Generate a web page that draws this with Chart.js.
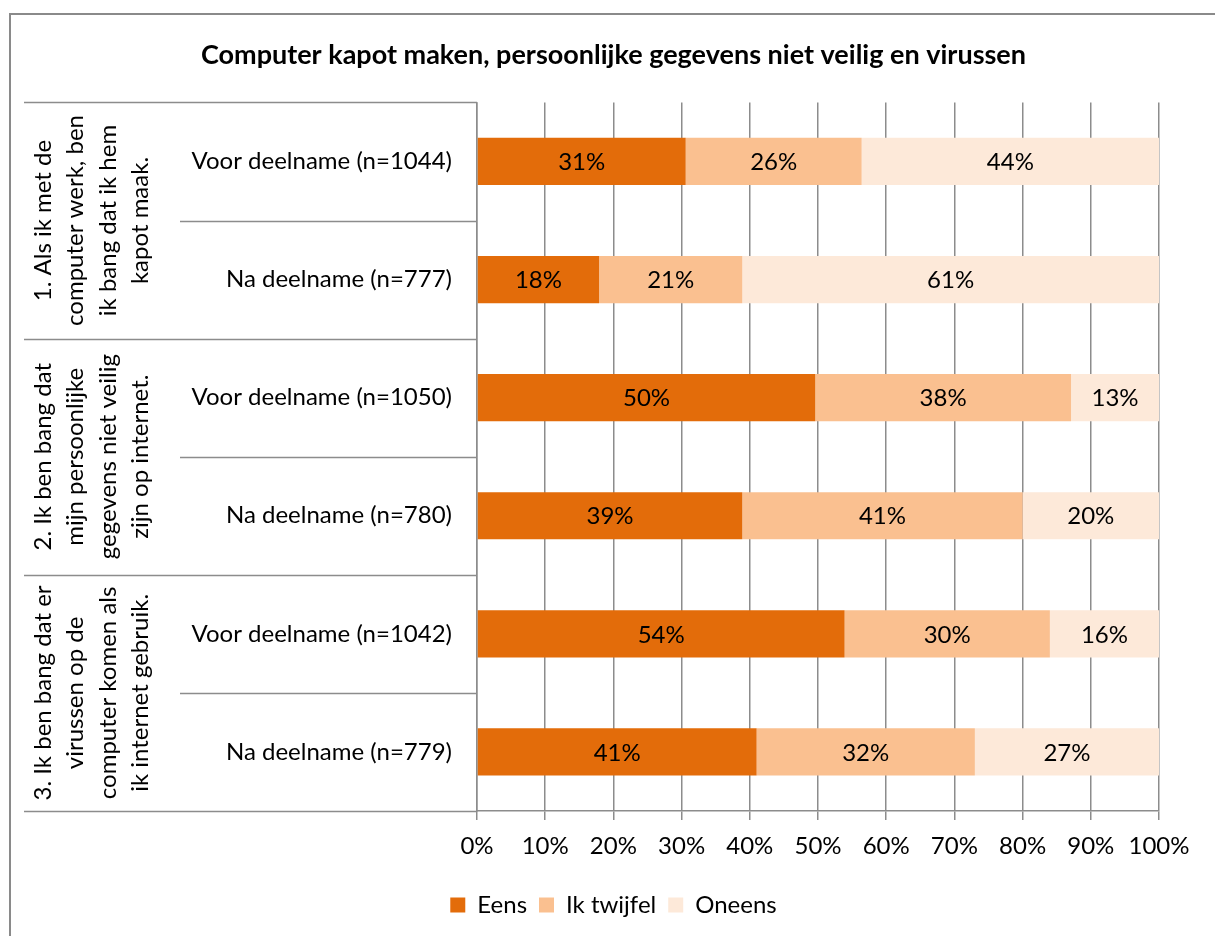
<!DOCTYPE html>
<html>
<head>
<meta charset="utf-8">
<script src="https://cdn.jsdelivr.net/npm/chart.js@4/dist/chart.umd.min.js"></script>
<style>
html,body{margin:0;padding:0;background:#fff;}
#wrap{position:relative;width:1215px;height:936px;}
</style>
</head>
<body>
<div id="wrap"><canvas id="c" width="1215" height="936"></canvas></div>
<script>
const chartTitle = 'Computer kapot maken, persoonlijke gegevens niet veilig en virussen';
const categories = [
  'Voor deelname (n=1044)', 'Na deelname (n=777)',
  'Voor deelname (n=1050)', 'Na deelname (n=780)',
  'Voor deelname (n=1042)', 'Na deelname (n=779)'
];
const groupLabels = [
  ['1. Als ik met de', 'computer werk, ben', 'ik bang dat ik hem', 'kapot maak.'],
  ['2. Ik ben bang dat', 'mijn persoonlijke', 'gegevens niet veilig', 'zijn op internet.'],
  ['3. Ik ben bang dat er', 'virussen op de', 'computer komen als', 'ik internet gebruik.']
];
const seriesNames = ['Eens', 'Ik twijfel', 'Oneens'];
const eens    = [30.6, 17.9, 49.6, 38.9, 53.9, 41.0];
const twijfel = [25.8, 21.0, 37.5, 41.1, 30.1, 32.0];
const oneens  = [43.6, 61.1, 12.9, 20.0, 16.0, 27.0];
const xTickValues = [0, 10, 20, 30, 40, 50, 60, 70, 80, 90, 100];

const FONT = 'Lato, "Open Sans", sans-serif';
const FS = 24;
const GRID = '#8c8c8c';

const framePlugin = {
  id: 'frame',
  beforeDraw(chart) {
    const ctx = chart.ctx;
    ctx.save();
    ctx.strokeStyle = '#8a8a8a';
    ctx.lineWidth = 2;
    ctx.beginPath();
    ctx.moveTo(10, 940);
    ctx.lineTo(10, 14);
    ctx.lineTo(1220, 14);
    ctx.stroke();
    ctx.restore();
  }
};

const groupPlugin = {
  id: 'groups',
  afterDraw(chart) {
    const ctx = chart.ctx;
    const ys = chart.scales.y;
    const left = chart.chartArea.left;
    ctx.save();
    ctx.strokeStyle = GRID;
    ctx.lineWidth = 1.5;
    for (let i = 0; i <= categories.length; i++) {
      const y = Math.round(ys.getPixelForValue(i - 0.5)) + 0.5;
      const x0 = (i % 2 === 0) ? 24 : 180;
      ctx.beginPath();
      ctx.moveTo(x0, y);
      ctx.lineTo(left, y);
      ctx.stroke();
    }
    ctx.fillStyle = '#000';
    ctx.font = FS + 'px ' + FONT;
    ctx.textAlign = 'center';
    ctx.textBaseline = 'middle';
    const lh = 32.5;
    groupLabels.forEach((lines, g) => {
      const yTop = ys.getPixelForValue(g * 2 - 0.5);
      const yBot = ys.getPixelForValue(g * 2 + 1.5);
      const cy = (yTop + yBot) / 2;
      const cx = 92;
      ctx.save();
      ctx.translate(cx, cy);
      ctx.rotate(-Math.PI / 2);
      const n = lines.length;
      lines.forEach((t, k) => {
        ctx.fillText(t, 0, (k - (n - 1) / 2) * lh);
      });
      ctx.restore();
    });
    ctx.restore();
  }
};

const labelPlugin = {
  id: 'barLabels',
  afterDatasetsDraw(chart) {
    const ctx = chart.ctx;
    ctx.save();
    ctx.fillStyle = '#000';
    ctx.font = FS + 'px ' + FONT;
    ctx.textAlign = 'center';
    ctx.textBaseline = 'middle';
    chart.data.datasets.forEach((ds, di) => {
      const meta = chart.getDatasetMeta(di);
      meta.data.forEach((bar, i) => {
        const p = bar.getProps(['x', 'y', 'base'], true);
        const cx = (p.x + p.base) / 2;
        ctx.fillText(Math.round(ds.data[i]) + '%', cx, p.y + 1);
      });
    });
    ctx.restore();
  }
};

new Chart(document.getElementById('c'), {
  type: 'bar',
  data: {
    labels: categories,
    datasets: [
      { label: seriesNames[0], data: eens, backgroundColor: '#E36C0A' },
      { label: seriesNames[1], data: twijfel, backgroundColor: '#FAC090' },
      { label: seriesNames[2], data: oneens, backgroundColor: '#FDE9D9' }
    ]
  },
  options: {
    indexAxis: 'y',
    responsive: false,
    animation: false,
    devicePixelRatio: 1,
    categoryPercentage: 0.8,
    barPercentage: 0.5,
    layout: { padding: { left: 12, right: 0, top: 0, bottom: 9 } },
    plugins: {
      title: {
        display: true,
        text: chartTitle,
        color: '#000',
        font: { family: FONT, size: 27, weight: 'bold' },
        padding: { top: 39, bottom: 31 }
      },
      legend: {
        position: 'bottom',
        labels: {
          color: '#000',
          font: { family: FONT, size: FS },
          boxWidth: 15,
          boxHeight: 15,
          padding: 12
        }
      },
      tooltip: { enabled: false }
    },
    scales: {
      x: {
        stacked: true,
        min: 0,
        max: 100,
        afterBuildTicks: (s) => { s.ticks = xTickValues.map(v => ({ value: v })); },
        afterFit: (s) => { s.height = 70; },
        ticks: {
          color: '#000',
          font: { family: FONT, size: FS },
          padding: 12,
          maxRotation: 0,
          callback: (v) => v + '%'
        },
        grid: { color: GRID, lineWidth: 1.5, tickLength: 9 },
        border: { color: GRID, width: 1.5 }
      },
      y: {
        stacked: true,
        afterFit: (s) => { s.width = 465; },
        ticks: {
          color: '#000',
          font: { family: FONT, size: FS },
          padding: 25
        },
        grid: { display: true, drawOnChartArea: false, drawTicks: false, color: GRID },
        border: { color: GRID, width: 1.5 }
      },
      spacer: {
        type: 'linear',
        position: 'right',
        display: true,
        afterFit: (s) => { s.width = 56; },
        ticks: { display: false },
        grid: { display: false },
        border: { display: false }
      }
    }
  },
  plugins: [framePlugin, groupPlugin, labelPlugin]
});
</script>
</body>
</html>
